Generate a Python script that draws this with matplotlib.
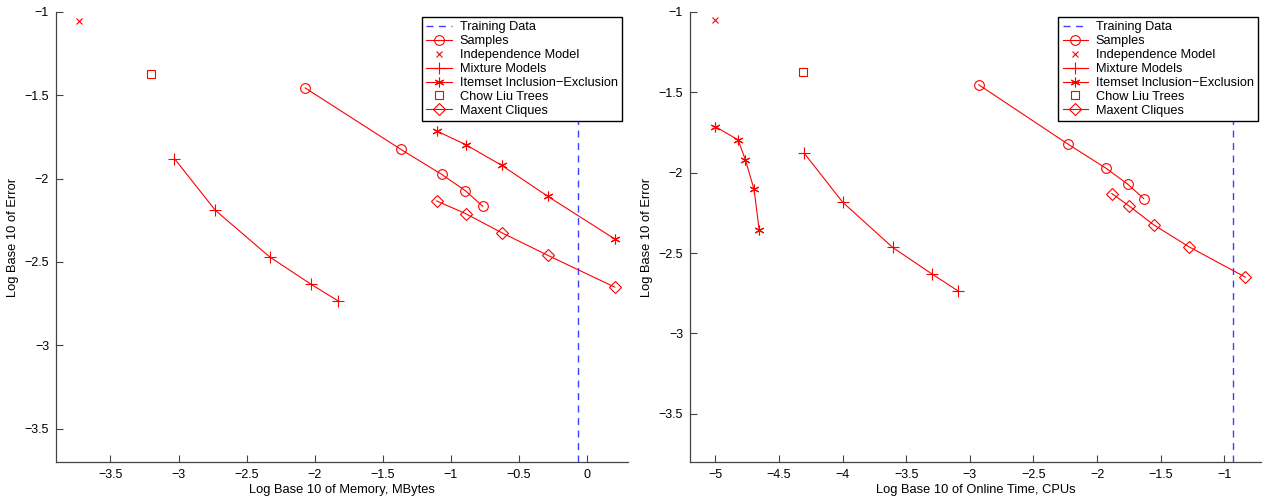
import matplotlib
matplotlib.use("Agg")
import matplotlib.pyplot as plt

plt.rcParams['font.family'] = ['Liberation Sans', 'DejaVu Sans']
plt.rcParams['font.size'] = 9

# ---- memory panel (left) ----
mem_train = -0.066
mem_samples_x = [-2.07, -1.368, -1.068, -0.894, -0.765]
mem_samples_y = [-1.456, -1.824, -1.974, -2.072, -2.166]
mem_indep_x = [-3.73]
mem_indep_y = [-1.054]
mem_mix_x = [-3.03, -2.73, -2.33, -2.028, -1.827]
mem_mix_y = [-1.88, -2.19, -2.47, -2.633, -2.734]
mem_item_x = [-1.104, -0.891, -0.627, -0.288, 0.204]
mem_item_y = [-1.714, -1.796, -1.92, -2.106, -2.362]
mem_chow_x = [-3.206]
mem_chow_y = [-1.374]
mem_maxent_x = [-1.104, -0.891, -0.627, -0.288, 0.204]
mem_maxent_y = [-2.134, -2.21, -2.324, -2.46, -2.651]

# ---- online time panel (right) ----
time_train = -0.931
time_samples_x = [-2.93, -2.231, -1.93, -1.758, -1.633]
time_samples_y = [-1.453, -1.821, -1.972, -2.072, -2.161]
time_indep_x = [-5.0]
time_indep_y = [-1.052]
time_mix_x = [-4.302, -4.001, -3.607, -3.30, -3.096]
time_mix_y = [-1.879, -2.183, -2.465, -2.629, -2.734]
time_item_x = [-5.0, -4.822, -4.766, -4.697, -4.656]
time_item_y = [-1.714, -1.796, -1.918, -2.103, -2.359]
time_chow_x = [-4.315]
time_chow_y = [-1.374]
time_maxent_x = [-1.883, -1.746, -1.555, -1.279, -0.834]
time_maxent_y = [-2.13, -2.208, -2.324, -2.46, -2.65]

labels = ["Training Data", "Samples", "Independence Model", "Mixture Models",
          "Itemset Inclusion\u2212Exclusion", "Chow Liu Trees", "Maxent Cliques"]
yticks = [-3.5, -3, -2.5, -2, -1.5, -1]

RED = (1, 0, 0)
ASTER = (6, 2, 0)
lw = 0.8
ms = 7


def fmt(t):
    return ('%g' % t).replace('-', '\u2212')


def panel(ax, train, samp, indep, mix, item, chow, maxent,
          xlim, ylim, xticks, xlabel, legend_x):
    ax.axvline(train, color=(0.25, 0.25, 1), lw=1.0, dashes=[5, 4],
               label=labels[0])
    ax.plot(*samp, color=RED, lw=lw, marker='o', mfc='none', ms=ms,
            mew=lw, label=labels[1])
    ax.plot(*indep, color=RED, ls='none', marker='x', ms=5, mew=lw,
            label=labels[2])
    ax.plot(*mix, color=RED, lw=lw, marker='+', ms=ms + 1, mew=lw,
            label=labels[3])
    ax.plot(*item, color=RED, lw=lw, marker=ASTER, ms=ms, mew=lw,
            label=labels[4])
    ax.plot(*chow, color=RED, ls='none', marker='s', mfc='none', ms=6,
            mew=lw, label=labels[5])
    ax.plot(*maxent, color=RED, lw=lw, marker='D', mfc='none', ms=6,
            mew=lw, label=labels[6])

    ax.set_xlim(*xlim)
    ax.set_ylim(*ylim)
    ax.set_xticks(xticks)
    ax.set_yticks(yticks)
    ax.set_xticklabels([fmt(t) for t in xticks])
    ax.set_yticklabels([fmt(t) for t in yticks])
    ax.spines['top'].set_visible(False)
    ax.spines['right'].set_visible(False)
    for s in ('left', 'bottom'):
        ax.spines[s].set_color('#444444')
        ax.spines[s].set_linewidth(0.9)
    ax.tick_params(direction='in', length=5, width=0.8, color='#444444',
                   labelsize=9, pad=5)
    ax.set_xlabel(xlabel, fontsize=9.3, labelpad=2)
    ax.set_ylabel("Log Base 10 of Error", fontsize=9.3, labelpad=4)
    leg = ax.legend(loc='upper right', bbox_to_anchor=(legend_x, 0.989),
                    numpoints=1, handlelength=2.0, handletextpad=0.6,
                    labelspacing=0.15, borderpad=0.35, fancybox=False,
                    framealpha=1, edgecolor='black', fontsize=9.2,
                    borderaxespad=0)
    leg.get_frame().set_linewidth(1.0)


fig = plt.figure(figsize=(12.65, 5.04), dpi=100)
ax1 = fig.add_axes([0.0443, 0.0833, 0.452, 0.893])
ax2 = fig.add_axes([0.5455, 0.0833, 0.4514, 0.893])

panel(ax1, mem_train, (mem_samples_x, mem_samples_y), (mem_indep_x, mem_indep_y),
      (mem_mix_x, mem_mix_y), (mem_item_x, mem_item_y), (mem_chow_x, mem_chow_y),
      (mem_maxent_x, mem_maxent_y), (-3.9, 0.3), (-3.7, -1),
      [-3.5, -3, -2.5, -2, -1.5, -1, -0.5, 0],
      "Log Base 10 of Memory, MBytes", 0.99)

panel(ax2, time_train, (time_samples_x, time_samples_y), (time_indep_x, time_indep_y),
      (time_mix_x, time_mix_y), (time_item_x, time_item_y), (time_chow_x, time_chow_y),
      (time_maxent_x, time_maxent_y), (-5.2, -0.71), (-3.8, -1),
      [-5, -4.5, -4, -3.5, -3, -2.5, -2, -1.5, -1],
      "Log Base 10 of Online Time, CPUs", 0.995)

fig.savefig("out.png", dpi=100)
